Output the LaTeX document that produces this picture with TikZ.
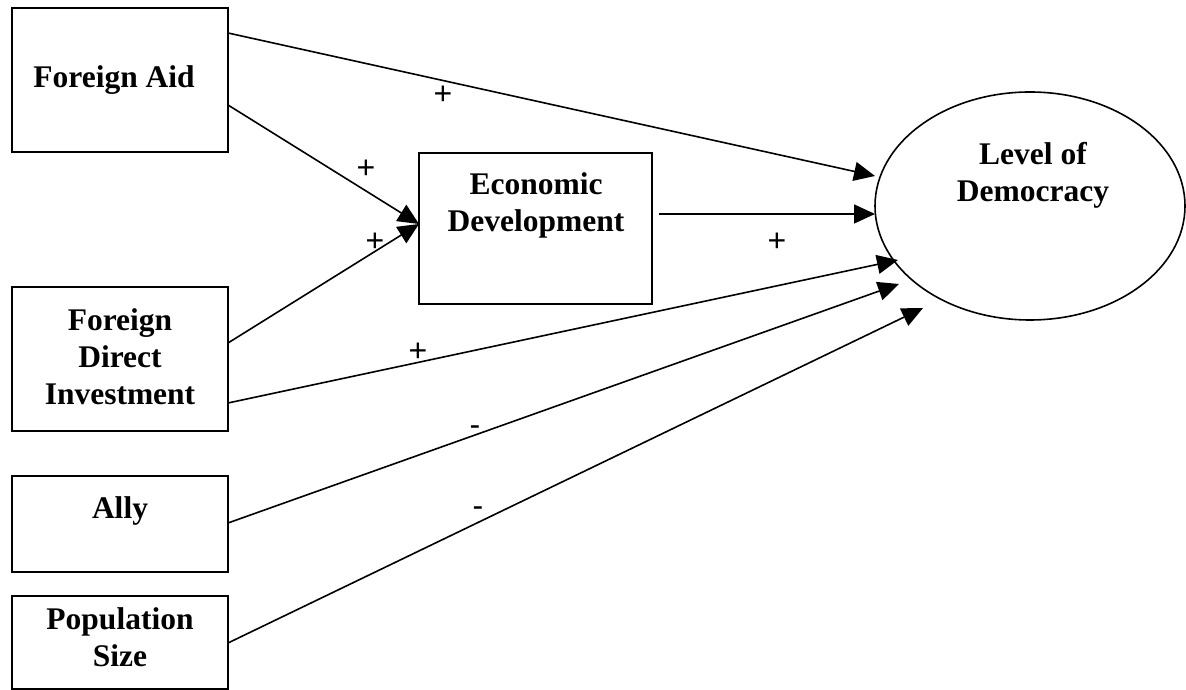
\documentclass[tikz,border=0pt]{standalone}
\usepackage{fontspec}
\setmainfont{Liberation Serif}
\newfontfamily\labfont{Liberation Sans}
\usetikzlibrary{arrows.meta,shapes.geometric,calc}
\begin{document}
\begin{tikzpicture}[x=1pt,y=1pt,
  box/.style={draw, line width=1.8pt, inner sep=0pt, outer sep=0pt, minimum width=216pt},
  ttl/.style={font=\bfseries\fontsize{31.5}{37}\selectfont, align=center, inner sep=0pt, anchor=north},
  conn/.style={line width=1.6pt, -{Triangle[length=21pt,width=19pt]}},
  sgn/.style={font=\labfont\fontsize{32}{32}\selectfont, inner sep=0pt, anchor=base}]
\useasboundingbox (0,0) rectangle (1186,690);
% boxes
\node[box, minimum height=144pt] (fa) at (120,610) {};
\node[box, minimum height=144pt] (fdi) at (120,331) {};
\node[box, minimum height=96pt] (ally) at (120,166) {};
\node[box, minimum height=93pt] (pop) at (120,47.5) {};
\node[box, minimum width=233pt, minimum height=151pt] (ed) at (535.5,461.5) {};
\node[draw, ellipse, line width=1.6pt, minimum width=310pt, minimum height=228pt, inner sep=0pt, outer sep=0pt] (ld) at (1030,484) {};
% texts
\node[ttl] (fat) at (114,625) {Foreign Aid};
\node[ttl] (fdit) at (120,382) {Foreign\\Direct\\Investment};
\node[ttl] (allyt) at (120,194) {Ally};
\node[ttl] (popt) at (120,83) {Population\\Size};
\node[ttl] (edt) at (536,518) {Economic\\Development};
\node[ttl] (ldt) at (1033,548) {Level of\\Democracy};
% connectors
\draw[conn] ($(fa.north east)+(0,-25)$) -- ($(ld.center)+(-155,30)$);
\draw[conn] ($(fa.north east)+(0,-97)$) -- ($(ed.north west)+(0,-71)$);
\draw[conn] ($(fdi.north east)+(0,-56)$) -- ($(ed.north west)+(0,-71)$);
\draw[conn] ($(ed.north east)+(7,-61)$) -- ($(ld.center)+(-155,-8)$);
\draw[conn] ($(fdi.north east)+(0,-116)$) -- ($(ld.center)+(-132,-54)$);
\draw[conn] ($(ally.north east)+(0,-47)$) -- ($(ld.center)+(-131,-78)$);
\draw[conn] ($(pop.north east)+(0,-47)$) -- ($(ld.center)+(-107,-102)$);
% signs
\node[sgn] (s1) at (443,585.5) {+};
\node[sgn] (s2) at (366,511.5) {+};
\node[sgn] (s3) at (375,438.5) {+};
\node[sgn] (s4) at (777,438.5) {+};
\node[sgn] (s5) at (418,328.5) {+};
\node[sgn] (s6) at (475,254.5) {-};
\node[sgn] (s7) at (478,173.5) {-};
\end{tikzpicture}
\end{document}
